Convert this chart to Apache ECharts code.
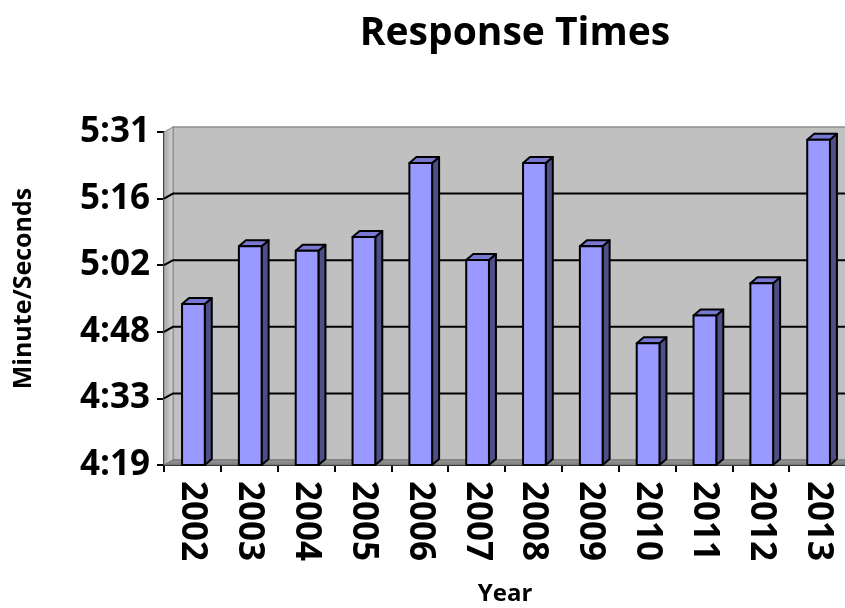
<!DOCTYPE html>
<html>
<head>
<meta charset="utf-8">
<title>Response Times</title>
<script src="https://cdn.jsdelivr.net/npm/echarts@6/dist/echarts.min.js"></script>
<style>
  html, body { margin: 0; padding: 0; background: #ffffff; }
  #chart { width: 845px; height: 608px; }
</style>
</head>
<body>
<div id="chart"></div>
<script>
// Average response time per year, in seconds (m:ss on the axis)
const years = ['2002', '2003', '2004', '2005', '2006', '2007', '2008', '2009', '2010', '2011', '2012', '2013'];
const responseSeconds = [294, 306.5, 305.5, 308.5, 324.5, 303.5, 324.5, 306.5, 285.5, 291.5, 298.5, 329.5];

// Value axis: 4:19.2 .. 5:31.2 in steps of 14.4 s
const axisMin = 259.2;
const axisStep = 14.4;
const axisMax = 331.2;
const yTickLabels = ['4:19', '4:33', '4:48', '5:02', '5:16', '5:31'];
const yTickValues = yTickLabels.map((_, i) => axisMin + i * axisStep);

const FONT = '"Open Sans", sans-serif';

// depth offsets for the pseudo-3D look
const WALL_DX = 9, WALL_DY = 5;
const BAR_DX = 7, BAR_DY = 6;

const chart = echarts.init(document.getElementById('chart'), null, { renderer: 'canvas' });

function renderWalls(params, api) {
  const cs = params.coordSys;
  const x0 = cs.x, x1 = cs.x + cs.width;
  const yT = cs.y, yB = cs.y + cs.height;
  const children = [];
  // back wall
  children.push({
    type: 'rect',
    shape: { x: x0 + WALL_DX, y: yT - WALL_DY, width: cs.width + 20, height: cs.height },
    style: { fill: '#C0C0C0', stroke: '#8C8C8C', lineWidth: 1.5 }
  });
  // left side wall
  children.push({
    type: 'polygon',
    shape: { points: [[x0, yT], [x0 + WALL_DX, yT - WALL_DY], [x0 + WALL_DX, yB - WALL_DY], [x0, yB]] },
    style: {
      fill: new echarts.graphic.LinearGradient(0, 0, 1, 0, [
        { offset: 0, color: '#A8A8A8' }, { offset: 1, color: '#D4D4D4' }
      ]),
      stroke: '#8C8C8C', lineWidth: 1
    }
  });
  // floor
  children.push({
    type: 'polygon',
    shape: { points: [[x0, yB], [x0 + WALL_DX, yB - WALL_DY], [x1 + WALL_DX + 20, yB - WALL_DY], [x1 + 20, yB]] },
    style: {
      fill: new echarts.graphic.LinearGradient(0, 0, 0, 1, [
        { offset: 0, color: '#9A9A9A' }, { offset: 1, color: '#7A7A7A' }
      ]),
      stroke: '#707070', lineWidth: 1
    }
  });
  // gridlines across the side wall and back wall
  yTickValues.forEach((v, i) => {
    if (i === 0 || i === yTickValues.length - 1) return;
    const y = api.coord([0, v])[1];
    children.push({
      type: 'polyline',
      shape: { points: [[x0, y], [x0 + WALL_DX, y - WALL_DY], [x1 + WALL_DX + 20, y - WALL_DY]] },
      style: { stroke: '#000000', lineWidth: 2, fill: null }
    });
  });
  return { type: 'group', children };
}

function renderBar(params, api) {
  const idx = api.value(0);
  const val = api.value(1);
  const top = api.coord([idx, val]);
  const base = api.coord([idx, axisMin]);
  const band = api.size([1, 0])[0];
  const w = band * 0.40;
  const xL = top[0] - w / 2 + 1;
  const xR = xL + w;
  const yT = top[1], yB = base[1];
  const line = { stroke: '#000000', lineWidth: 2, lineJoin: 'round' };
  return {
    type: 'group',
    children: [
      {
        type: 'polygon',
        shape: { points: [[xR, yT], [xR + BAR_DX, yT - BAR_DY], [xR + BAR_DX, yB - BAR_DY], [xR, yB]] },
        style: Object.assign({ fill: '#4F4F88' }, line)
      },
      {
        type: 'polygon',
        shape: { points: [[xL, yT], [xL + BAR_DX, yT - BAR_DY], [xR + BAR_DX, yT - BAR_DY], [xR, yT]] },
        style: Object.assign({ fill: '#7878D0' }, line)
      },
      {
        type: 'rect',
        shape: { x: xL, y: yT, width: w, height: yB - yT },
        style: Object.assign({ fill: '#9999FF' }, line)
      }
    ]
  };
}

const option = {
  backgroundColor: '#ffffff',
  animation: false,
  title: {
    text: 'Response Times',
    left: 510,
    top: 9,
    textAlign: 'center',
    textStyle: { fontFamily: FONT, fontWeight: 'bold', fontSize: 39, color: '#000000' }
  },
  grid: { left: 164, top: 132, width: 682, height: 333, containLabel: false, outerBoundsMode: 'none' },
  xAxis: {
    type: 'category',
    data: years,
    name: 'Year',
    nameLocation: 'middle',
    nameGap: 117,
    nameMoveOverlap: false,
    nameTextStyle: { fontFamily: FONT, fontWeight: 'bold', fontSize: 24, color: '#000000' },
    axisLine: { show: true, lineStyle: { color: '#000000', width: 2 } },
    axisTick: { show: true, length: 7, lineStyle: { color: '#000000', width: 2 } },
    axisLabel: {
      rotate: -90,
      margin: 16,
      fontFamily: FONT, fontWeight: 'bold', fontSize: 35, color: '#000000'
    },
    splitLine: { show: false }
  },
  yAxis: {
    type: 'value',
    min: axisMin,
    max: axisMax,
    interval: axisStep,
    name: 'Minute/Seconds',
    nameLocation: 'middle',
    nameGap: 128,
    nameMoveOverlap: false,
    nameRotate: 90,
    nameTextStyle: { fontFamily: FONT, fontWeight: 'bold', fontSize: 25, color: '#000000', padding: [0, 0, 0, 20] },
    axisLine: { show: true, lineStyle: { color: '#000000', width: 2 } },
    axisTick: { show: true, length: 7, lineStyle: { color: '#000000', width: 2 } },
    axisLabel: {
      margin: 14,
      fontFamily: FONT, fontWeight: 'bold', fontSize: 35, color: '#000000',
      formatter: function (v) {
        const i = Math.round((v - axisMin) / axisStep);
        return yTickLabels[i] !== undefined ? yTickLabels[i] : '';
      }
    },
    splitLine: { show: false }
  },
  series: [
    {
      type: 'custom',
      name: 'walls',
      silent: true,
      z: 1,
      clip: false,
      renderItem: renderWalls,
      data: [[0, axisMin]]
    },
    {
      type: 'custom',
      name: 'Response time',
      z: 3,
      clip: false,
      renderItem: renderBar,
      encode: { x: 0, y: 1 },
      data: responseSeconds.map((v, i) => [i, v])
    }
  ]
};

chart.setOption(option);
</script>
</body>
</html>
